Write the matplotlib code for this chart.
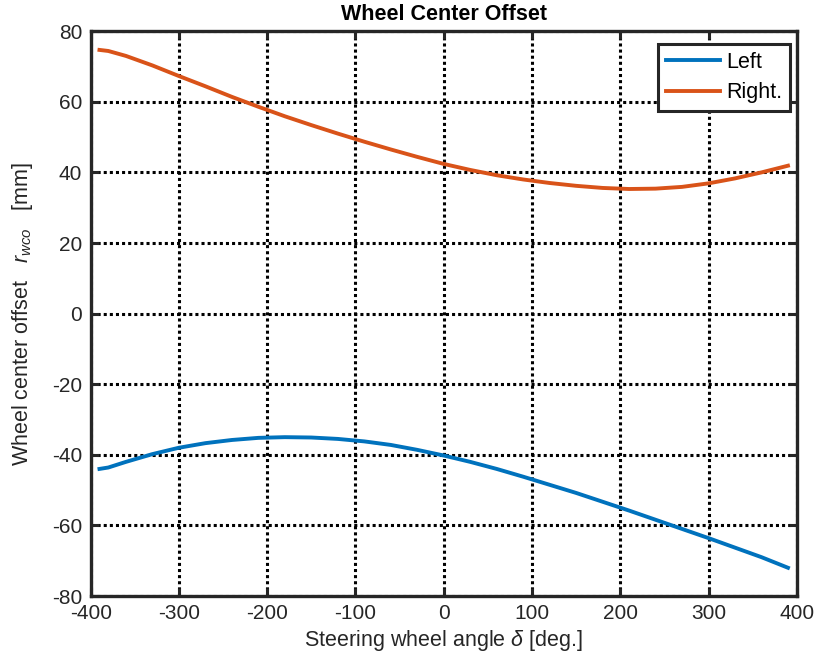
import matplotlib
matplotlib.use("Agg")
import matplotlib.pyplot as plt
import numpy as np

plt.rcParams["font.family"] = ["Liberation Sans", "DejaVu Sans"]
plt.rcParams["mathtext.fontset"] = "custom"
plt.rcParams["mathtext.it"] = "Liberation Sans:italic"
plt.rcParams["mathtext.rm"] = "Liberation Sans"
plt.rcParams["axes.unicode_minus"] = False

# steering wheel angle [deg]
angle = [-390, -380, -360, -330, -300, -270, -240, -210, -180, -150, -120, -90, -60, -30,
         0, 30, 60, 90, 120, 150, 180, 210, 240, 270, 300, 330, 360, 390]

# wheel center offset [mm]
offset_left = [-44.0, -43.6, -42.0, -39.8, -38.0, -36.7, -35.8, -35.2, -35.0, -35.1, -35.5, -36.2,
               -37.2, -38.6, -40.2, -42.0, -44.0, -46.2, -48.5, -50.8, -53.3, -55.8, -58.4, -61.0,
               -63.6, -66.3, -69.0, -72.0]
offset_right = [74.7, 74.4, 73.0, 70.3, 67.3, 64.4, 61.4, 58.6, 55.9, 53.4, 51.0, 48.7, 46.5, 44.4,
                42.4, 40.7, 39.2, 38.0, 37.0, 36.2, 35.6, 35.3, 35.4, 35.9, 36.9, 38.3, 40.0, 41.9]

xticks = [-400, -300, -200, -100, 0, 100, 200, 300, 400]
yticks = [-80, -60, -40, -20, 0, 20, 40, 60, 80]

fig = plt.figure(figsize=(8.24, 6.64), dpi=100)
ax = fig.add_axes([0.110, 0.1024, 0.857, 0.8506])

ax.plot(angle, offset_left, color="#0072BD", linewidth=2.8, label="Left", zorder=3)
ax.plot(angle, offset_right, color="#D95319", linewidth=2.8, label="Right.", zorder=3)

ax.set_xlim(-400, 400)
ax.set_ylim(-80, 80)
ax.set_xticks(xticks)
ax.set_yticks(yticks)
ax.grid(True, color="black", linestyle=(0, (1, 1.0)), linewidth=2.2)
ax.set_axisbelow(True)

for s in ax.spines.values():
    s.set_linewidth(2.4)
    s.set_color("#262626")
ax.tick_params(direction="in", length=6, width=2.2, labelsize=15, colors="#262626",
               top=True, right=True, pad=6)

ax.set_title("Wheel Center Offset", fontsize=15.5, fontweight="bold", pad=8)
ax.set_xlabel(r"Steering wheel angle $\delta$ [deg.]", fontsize=15.5, color="#262626", labelpad=3)
ax.set_ylabel(r"Wheel center offset   $r_{wco}$   [mm]", fontsize=15.5, color="#262626", labelpad=12)

leg = ax.legend(loc="upper right", bbox_to_anchor=(0.990, 0.977), fontsize=15.5, fancybox=False,
                framealpha=1, edgecolor="#262626", borderaxespad=0, handlelength=2.5,
                handletextpad=0.3, borderpad=0.35, labelspacing=0.45)
leg.get_frame().set_linewidth(2.2)

fig.savefig("out.png", dpi=100)
